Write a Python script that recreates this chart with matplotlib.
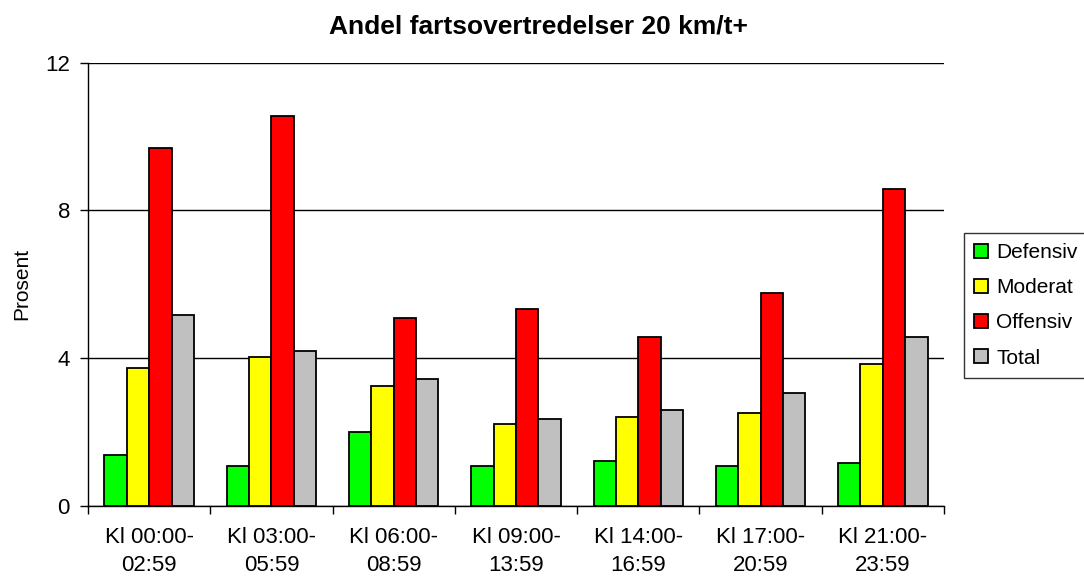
import numpy as np
import matplotlib
matplotlib.use("Agg")
import matplotlib.pyplot as plt
from matplotlib.ticker import FixedLocator

plt.rcParams["font.family"] = ["Liberation Sans", "DejaVu Sans"]

categories = ["Kl 00:00-\n02:59", "Kl 03:00-\n05:59", "Kl 06:00-\n08:59",
              "Kl 09:00-\n13:59", "Kl 14:00-\n16:59", "Kl 17:00-\n20:59",
              "Kl 21:00-\n23:59"]
series_names = ["Defensiv", "Moderat", "Offensiv", "Total"]
defensiv = [1.38, 1.08, 2.01, 1.08, 1.23, 1.08, 1.17]
moderat = [3.74, 4.04, 3.25, 2.22, 2.42, 2.51, 3.84]
offensiv = [9.68, 10.56, 5.08, 5.32, 4.58, 5.77, 8.59]
total = [5.18, 4.19, 3.45, 2.36, 2.61, 3.05, 4.58]
colors = ["#00ff00", "#ffff00", "#ff0000", "#c0c0c0"]


def main() -> None:
    fig = plt.figure(figsize=(10.84, 5.81), dpi=100)
    ax = fig.add_axes([0.0812, 0.1291, 0.7896, 0.7630])

    x = np.arange(len(categories))
    width = 0.183
    for j, (name, vals) in enumerate(zip(series_names, [defensiv, moderat, offensiv, total])):
        ax.bar(x + (j - 1.5) * width, vals, width, color=colors[j],
               edgecolor="black", linewidth=1.3, label=name, zorder=3)

    ax.set_xlim(-0.5, len(categories) - 0.5)
    ax.set_ylim(0, 12)
    ax.set_yticks([0, 4, 8, 12])
    ax.tick_params(axis="y", labelsize=16, length=6, width=1, direction="out", pad=7)
    ax.set_xticks(x)
    ax.set_xticklabels(categories, fontsize=16, linespacing=1.45)
    ax.tick_params(axis="x", which="major", length=0, pad=15)
    ax.xaxis.set_minor_locator(FixedLocator(np.arange(-0.5, len(categories), 1.0)))
    ax.tick_params(axis="x", which="minor", length=6, width=1, direction="out")

    ax.yaxis.grid(True, color="black", linewidth=1, zorder=0)
    ax.set_axisbelow(True)
    for side in ["top", "right"]:
        ax.spines[side].set_visible(False)
    for side in ["left", "bottom"]:
        ax.spines[side].set_linewidth(1)

    ax.set_ylabel("Prosent", fontsize=15, labelpad=10)
    fig.text(0.497, 1 - 33.5 / 581, "Andel fartsovertredelser 20 km/t+",
             ha="center", va="baseline", fontsize=19, fontweight="bold")

    leg = fig.legend(loc="upper left", bbox_to_anchor=(964 / 1084, 1 - 232.5 / 581),
                     fontsize=15, frameon=True, fancybox=False, borderaxespad=0,
                     handlelength=0.65, handleheight=0.65, handletextpad=0.4,
                     labelspacing=0.78, borderpad=0.5)
    leg.get_frame().set_edgecolor("black")
    leg.get_frame().set_linewidth(1)

    fig.savefig("out.png", dpi=100)
    plt.close(fig)


if __name__ == "__main__":
    main()
